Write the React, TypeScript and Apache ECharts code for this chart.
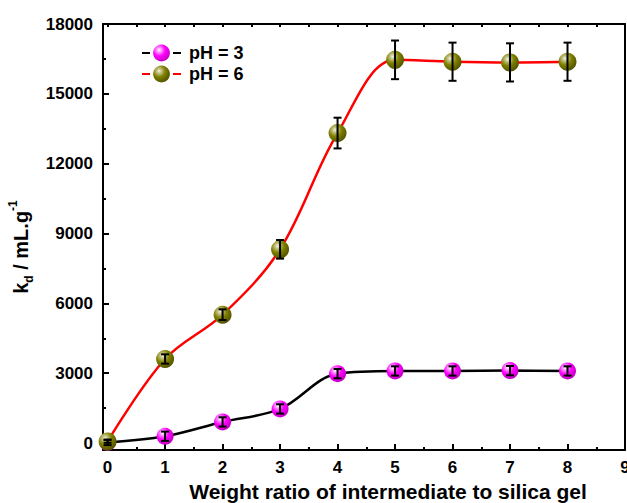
import React, { useEffect, useRef } from "react";
import * as echarts from "echarts";

const xValues = [0, 1, 2, 3, 4, 5, 6, 7, 8];
const ph3Values = [30, 290, 905, 1465, 2980, 3095, 3095, 3110, 3095];
const ph3Errors = [120, 200, 200, 200, 200, 200, 200, 200, 200];
const ph6Values = [70, 3610, 5513, 8320, 13315, 16460, 16380, 16350, 16380];
const ph6Errors = [60, 200, 230, 400, 660, 830, 820, 820, 820];
const xMajorTicks = [0, 1, 2, 3, 4, 5, 6, 7, 8, 9];
const xMinorTicks = [0.5, 1.5, 2.5, 3.5, 4.5, 5.5, 6.5, 7.5, 8.5];
const xTopTicks = [0, 0.5, 1, 1.5, 2, 2.5, 3, 3.5, 4, 4.5, 5, 5.5, 6, 6.5, 7, 7.5, 8, 8.5, 9];
const yMajorTicks = [0, 3000, 6000, 9000, 12000, 15000, 18000];
const yMinorTicks = [1500, 4500, 7500, 10500, 13500, 16500];
const seriesNames = ["pH = 3", "pH = 6"];

const FONT = "'Liberation Sans', Arial, Helvetica, sans-serif";

function sphere(light: string, mid: string, base: string, dark: string) {
  return new echarts.graphic.RadialGradient(0.36, 0.32, 0.72, [
    { offset: 0, color: light },
    { offset: 0.18, color: mid },
    { offset: 0.5, color: base },
    { offset: 1, color: dark },
  ]);
}

export default function App() {
  const ref = useRef<HTMLDivElement>(null);
  useEffect(() => {
    if (!ref.current) return;
    const chart = echarts.init(ref.current, null, { renderer: "svg" });
    const magenta = sphere("#ffffff", "#ff9cff", "#ff00ff", "#c000c0");
    const olive = sphere("#f4f4e4", "#c4c488", "#808000", "#505000");
    const ph3Data = xValues.map((x, i) => [x, ph3Values[i]]);
    const ph6Data = xValues.map((x, i) => [x, ph6Values[i]]);
    const ph3Err = xValues.map((x, i) => [x, ph3Values[i], ph3Errors[i]]);
    const ph6Err = xValues.map((x, i) => [x, ph6Values[i], ph6Errors[i]]);
    const axisLine = { show: true, lineStyle: { color: "#000", width: 2 } };
    const labelStyle = { color: "#000", fontSize: 17, fontWeight: "bold", fontFamily: FONT };
    const plain = (v: number) => String(v);
    const errRender = (params: any, api: any) => {
      const x = api.value(0);
      const y = api.value(1);
      const e = api.value(2);
      const t = api.coord([x, y + e]);
      const b = api.coord([x, y - e]);
      const hw = 4;
      const st = { stroke: "#000", lineWidth: 2 };
      return {
        type: "group",
        children: [
          { type: "line", shape: { x1: t[0], y1: t[1], x2: b[0], y2: b[1] }, style: st },
          { type: "line", shape: { x1: t[0] - hw, y1: t[1], x2: t[0] + hw, y2: t[1] }, style: st },
          { type: "line", shape: { x1: b[0] - hw, y1: b[1], x2: b[0] + hw, y2: b[1] }, style: st },
        ],
      };
    };
    chart.setOption({
      animation: false,
      backgroundColor: "#fff",
      grid: { left: 103, right: 2, top: 24, bottom: 53, containLabel: false, outerBoundsMode: "none" },
      legend: {
        data: seriesNames,
        orient: "vertical",
        left: 136,
        top: 39,
        itemWidth: 39,
        itemHeight: 21,
        itemGap: 3,
        lineStyle: { type: [8, 23] },
        textStyle: { color: "#000", fontSize: 18, fontWeight: "bold", fontFamily: FONT, padding: [0, 0, 0, 3] },
      },
      xAxis: [
        {
          type: "value",
          position: "bottom",
          min: -0.08,
          max: 9,
          axisLine: { ...axisLine, onZero: false },
          axisTick: { show: true, inside: true, length: 6, lineStyle: { color: "#000", width: 2 }, customValues: xMajorTicks },
          axisLabel: { ...labelStyle, margin: 9, customValues: xMajorTicks, formatter: plain },
          splitLine: { show: false },
          name: "Weight ratio of intermediate to silica gel",
          nameLocation: "middle",
          nameGap: 31,
          nameTextStyle: { color: "#000", fontSize: 21, fontWeight: "bold", fontFamily: FONT, padding: [0, 0, 0, 48] },
        },
        {
          type: "value",
          position: "bottom",
          min: -0.08,
          max: 9,
          axisLine: { show: false, onZero: false },
          axisTick: { show: true, inside: true, length: 3, lineStyle: { color: "#000", width: 2 }, customValues: xMinorTicks },
          axisLabel: { show: false },
          splitLine: { show: false },
        },
        {
          type: "value",
          position: "top",
          min: -0.08,
          max: 9,
          axisLine: { ...axisLine, onZero: false },
          axisTick: { show: true, inside: true, length: 3, lineStyle: { color: "#000", width: 2 }, customValues: xTopTicks },
          axisLabel: { show: false },
          splitLine: { show: false },
        },
      ],
      yAxis: [
        {
          type: "value",
          position: "left",
          min: -300,
          max: 18000,
          axisLine: { ...axisLine, onZero: false },
          axisTick: { show: true, inside: true, length: 6, lineStyle: { color: "#000", width: 2 }, customValues: yMajorTicks },
          axisLabel: { ...labelStyle, margin: 10, customValues: yMajorTicks, formatter: plain },
          splitLine: { show: false },
          name: "{a|k}{b|d}{a| / mL.g}{c|-1}",
          nameLocation: "middle",
          nameGap: 62,
          nameTextStyle: {
            color: "#000",
            fontFamily: FONT,
            fontWeight: "bold",
            padding: [0, 20, 0, 0],
            rich: {
              a: { fontSize: 20, fontWeight: "bold", fontFamily: FONT, color: "#000", lineHeight: 28, verticalAlign: "middle" },
              b: { fontSize: 12, fontWeight: "bold", fontFamily: FONT, color: "#000", lineHeight: 12, verticalAlign: "bottom" },
              c: { fontSize: 12, fontWeight: "bold", fontFamily: FONT, color: "#000", lineHeight: 12, verticalAlign: "top" },
            },
          },
        },
        {
          type: "value",
          position: "left",
          min: -300,
          max: 18000,
          axisLine: { show: false, onZero: false },
          axisTick: { show: true, inside: true, length: 3, lineStyle: { color: "#000", width: 2 }, customValues: yMinorTicks },
          axisLabel: { show: false },
          splitLine: { show: false },
        },
        {
          type: "value",
          position: "right",
          min: -300,
          max: 18000,
          axisLine: { ...axisLine, onZero: false },
          axisTick: { show: false },
          axisLabel: { show: false },
          splitLine: { show: false },
        },
      ],
      series: [
        {
          name: seriesNames[0],
          type: "line",
          data: ph3Data,
          smooth: 0.35,
          symbol: "circle",
          symbolSize: 17,
          showAllSymbol: true,
          lineStyle: { color: "#000", width: 2.5 },
          itemStyle: { color: magenta, borderWidth: 0 },
          z: 3,
        },
        {
          name: seriesNames[1],
          type: "line",
          data: ph6Data,
          smooth: 0.35,
          symbol: "circle",
          symbolSize: 18,
          showAllSymbol: true,
          lineStyle: { color: "#ff0000", width: 2.5 },
          itemStyle: { color: olive, borderWidth: 0 },
          z: 4,
        },
        {
          type: "custom",
          data: ph3Err,
          encode: { x: 0, y: 1 },
          renderItem: errRender,
          z: 10,
          silent: true,
        },
        {
          type: "custom",
          data: ph6Err,
          encode: { x: 0, y: 1 },
          renderItem: errRender,
          z: 10,
          silent: true,
        },
      ],
    });
    return () => chart.dispose();
  }, []);
  return (
    <div
      ref={ref}
      style={{ position: "fixed", left: 0, top: 0, width: 627, height: 503, background: "#fff" }}
    />
  );
}
